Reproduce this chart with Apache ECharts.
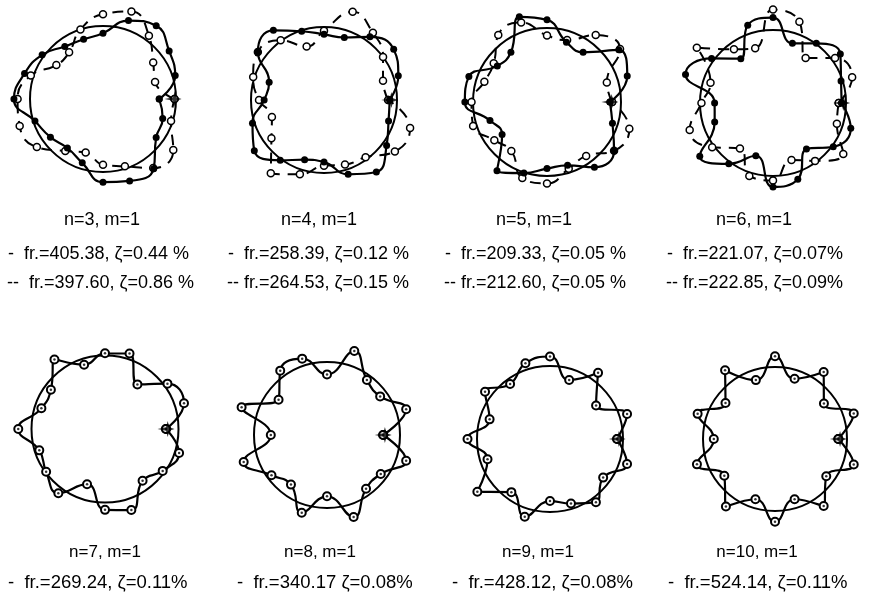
<!DOCTYPE html>
<html>
<head>
<meta charset="utf-8">
<script src="https://cdn.jsdelivr.net/npm/echarts@6/dist/echarts.min.js"></script>
<style>
  html, body { margin: 0; padding: 0; background: #fff; }
  #chart { width: 870px; height: 599px; }
</style>
</head>
<body>
<div id="chart"></div>
<script>
// Measurement stations around the ring (degrees, counter-clockwise from the excitation point)
const ANGLES = [0, 18, 36, 54, 72, 90, 108, 126, 144, 162, 180, 198, 216, 234, 252, 270, 288, 306, 324, 342];

const MODE_LABELS = ['n=3, m=1', 'n=4, m=1', 'n=5, m=1', 'n=6, m=1', 'n=7, m=1', 'n=8, m=1', 'n=9, m=1', 'n=10, m=1'];
const SOLID_LABELS = [
  '-  fr.=405.38, ζ=0.44 %', '-  fr.=258.39, ζ=0.12 %', '-  fr.=209.33, ζ=0.05 %', '-  fr.=221.07, ζ=0.07%',
  '-  fr.=269.24, ζ=0.11%', '-  fr.=340.17 ζ=0.08%', '-  fr.=428.12, ζ=0.08%', '-  fr.=524.14, ζ=0.11%'
];
const DASHED_LABELS = ['--  fr.=397.60, ζ=0.86 %', '-- fr.=264.53, ζ=0.15 %', '-- fr.=212.60, ζ=0.05 %', '-- fr.=222.85, ζ=0.09%'];

// Deformed radius (ring radius = 1) at each station, solid-line mode
const n3Solid = [0.77, 1.04, 1.12, 1.24, 1.13, 0.90, 0.86, 0.89, 1.03, 1.13, 1.22, 0.98, 0.89, 0.83, 0.92, 1.14, 1.18, 1.18, 0.90, 0.86];
const n4Solid = [0.90, 1.07, 1.18, 1.07, 0.90, 0.90, 0.99, 1.18, 1.12, 0.79, 0.82, 1.03, 1.18, 1.02, 0.86, 0.85, 1.07, 1.22, 1.06, 0.93];
const n5Solid = [0.85, 1.14, 1.20, 0.83, 0.85, 1.11, 1.21, 0.83, 0.83, 1.11, 1.11, 0.81, 0.75, 1.15, 1.01, 0.90, 0.90, 1.09, 1.12, 0.93];
const n6Solid = [0.94, 0.98, 1.14, 1.01, 0.86, 1.17, 1.12, 0.75, 1.04, 1.26, 0.80, 0.84, 1.24, 1.03, 0.76, 1.15, 1.10, 0.78, 1.02, 1.12];
const n7Solid = [0.83, 1.13, 1.05, 0.75, 1.08, 1.03, 0.92, 1.17, 0.91, 0.91, 1.18, 0.94, 0.99, 1.08, 0.79, 1.10, 1.16, 0.87, 0.97, 1.06];
const n8Solid = [0.77, 1.14, 0.90, 0.93, 1.21, 0.83, 1.10, 1.09, 0.82, 1.23, 0.77, 1.20, 0.94, 0.84, 1.12, 0.84, 1.18, 0.91, 0.91, 1.14];
const n9Solid = [0.92, 1.11, 0.78, 1.12, 0.85, 1.13, 1.09, 0.93, 1.10, 0.87, 1.13, 0.90, 1.23, 0.90, 1.12, 0.85, 0.93, 1.07, 0.90, 1.11];
const n10Solid = [0.88, 1.15, 0.84, 1.15, 0.88, 1.15, 0.86, 1.18, 0.85, 1.13, 0.85, 1.14, 0.87, 1.16, 0.88, 1.15, 0.88, 1.15, 0.88, 1.15];

// Second (dashed-line) mode for n = 3..6
const n3Dashed = [0.98, 0.75, 0.85, 1.07, 1.26, 1.16, 1.00, 0.79, 0.79, 1.04, 1.17, 1.20, 1.12, 0.88, 0.77, 0.90, 0.97, 1.17, 1.19, 0.98];
const n4Dashed = [0.88, 0.85, 1.00, 1.14, 1.27, 0.95, 0.77, 1.01, 1.12, 1.02, 0.89, 0.75, 0.89, 1.24, 1.07, 0.90, 0.93, 0.97, 1.20, 1.24];
const n5Dashed = [0.88, 0.85, 1.22, 1.12, 0.88, 0.90, 1.13, 1.12, 0.89, 0.89, 1.02, 1.05, 0.88, 0.82, 1.08, 1.10, 0.95, 0.90, 1.12, 1.17];
const n6Dashed = [0.90, 1.14, 1.05, 0.76, 1.17, 1.28, 0.79, 0.91, 1.29, 0.90, 0.98, 1.20, 1.03, 0.77, 1.05, 1.06, 0.82, 0.98, 1.19, 0.92];

// Radius of the excitation marker at 0 degrees
const EXCITATION_R = [0.96, 0.90, 0.85, 0.94, 0.83, 0.77, 0.92, 0.88];

const SOLID = [n3Solid, n4Solid, n5Solid, n6Solid, n7Solid, n8Solid, n9Solid, n10Solid];
const DASHED = [n3Dashed, n4Dashed, n5Dashed, n6Dashed];

// Panel layout: centre and ring radius in pixels
const PANELS = [
  { cx: 103, cy: 99, r: 73 }, { cx: 324, cy: 100, r: 73 }, { cx: 547, cy: 102, r: 74 }, { cx: 773, cy: 103, r: 73 },
  { cx: 105, cy: 429, r: 73.5 }, { cx: 327, cy: 435, r: 73 }, { cx: 550, cy: 439, r: 73 }, { cx: 775, cy: 439, r: 72 }
];
const RMAX = 1.4;

// Text placement
const TOP_FONT = '18px "Liberation Sans", Arial, sans-serif';
const BOTTOM_TITLE_FONT = '17px "Liberation Sans Narrow", "Liberation Sans", Arial, sans-serif';
const BOTTOM_LINE_FONT = '18.5px "Liberation Sans Narrow", "Liberation Sans", Arial, sans-serif';
const TITLE_X = [102, 319, 534, 754, 105, 320, 538, 757];
const LINE_X = [8, 228, 445, 667, 8, 237, 452, 668];

function closedLoop(values) {
  const pts = values.map((v, i) => [v, ANGLES[i]]);
  pts.push([values[0], 360]);
  return pts;
}

const polar = [], angleAxis = [], radiusAxis = [], series = [], graphic = [];
const starPath = 'path://M0,-9 L2,-2 L8,0 L2,2 L0,9 L-2,2 L-12,0 L-2,-2 Z';

PANELS.forEach((p, i) => {
  const dataIdx = 2 * i, ringIdx = 2 * i + 1;
  polar.push({ center: [p.cx, p.cy], radius: p.r * RMAX });
  polar.push({ center: [p.cx, p.cy], radius: p.r });
  [dataIdx, ringIdx].forEach((k) => {
    angleAxis.push({
      polarIndex: k, type: 'value', min: 0, max: 360, startAngle: 0, clockwise: false,
      show: k === ringIdx,
      axisLine: { show: true, lineStyle: { color: '#000', width: 2 } },
      axisTick: { show: false }, axisLabel: { show: false }, splitLine: { show: false }
    });
    radiusAxis.push({ polarIndex: k, type: 'value', min: 0, max: k === dataIdx ? RMAX : 1, show: false });
  });

  const top = i < 4;
  if (top) {
    series.push({
      type: 'line', coordinateSystem: 'polar', polarIndex: dataIdx,
      data: closedLoop(DASHED[i]), smooth: 0.5, showAllSymbol: true,
      symbol: 'circle', symbolSize: 7,
      lineStyle: { color: '#000', width: 2, type: [11, 8] },
      itemStyle: { color: '#fff', borderColor: '#000', borderWidth: 1.5 },
      z: 3, silent: true
    });
  }
  series.push({
    type: 'line', coordinateSystem: 'polar', polarIndex: dataIdx,
    data: closedLoop(SOLID[i]), smooth: 0.5, showAllSymbol: true,
    symbol: 'circle', symbolSize: top ? 7 : 8,
    lineStyle: { color: '#000', width: 2.2 },
    itemStyle: top ? { color: '#000' } : { color: '#fff', borderColor: '#000', borderWidth: 2 },
    z: 4, silent: true
  });
  if (!top) {
    // centre dots of the station markers
    series.push({
      type: 'scatter', coordinateSystem: 'polar', polarIndex: dataIdx,
      data: SOLID[i].map((v, j) => [v, ANGLES[j]]),
      symbol: 'circle', symbolSize: 2.5, itemStyle: { color: '#000' }, z: 5, silent: true
    });
  }
  series.push({
    type: 'scatter', coordinateSystem: 'polar', polarIndex: dataIdx,
    data: [[EXCITATION_R[i], 0]], symbol: starPath, symbolSize: [17, 16],
    itemStyle: { color: '#000' }, z: 6, silent: true
  });

  // captions
  const y0 = top ? 220 : 552;
  const titleFont = top ? TOP_FONT : BOTTOM_TITLE_FONT;
  const lineFont = top ? TOP_FONT : BOTTOM_LINE_FONT;
  graphic.push({ type: 'text', x: TITLE_X[i], y: y0, style: { text: MODE_LABELS[i], font: titleFont, fill: '#000', textAlign: 'center', textVerticalAlign: 'middle' } });
  graphic.push({ type: 'text', x: LINE_X[i], y: y0 + (top ? 34 : 31), style: { text: SOLID_LABELS[i], font: lineFont, fill: '#000', textAlign: 'left', textVerticalAlign: 'middle' } });
  if (top) {
    graphic.push({ type: 'text', x: LINE_X[i] - 1, y: y0 + 63, style: { text: DASHED_LABELS[i], font: lineFont, fill: '#000', textAlign: 'left', textVerticalAlign: 'middle' } });
  }
});

const chart = echarts.init(document.getElementById('chart'), null, { renderer: 'canvas' });
chart.setOption({
  backgroundColor: '#fff',
  animation: false,
  polar, angleAxis, radiusAxis, series, graphic
});
</script>
</body>
</html>
